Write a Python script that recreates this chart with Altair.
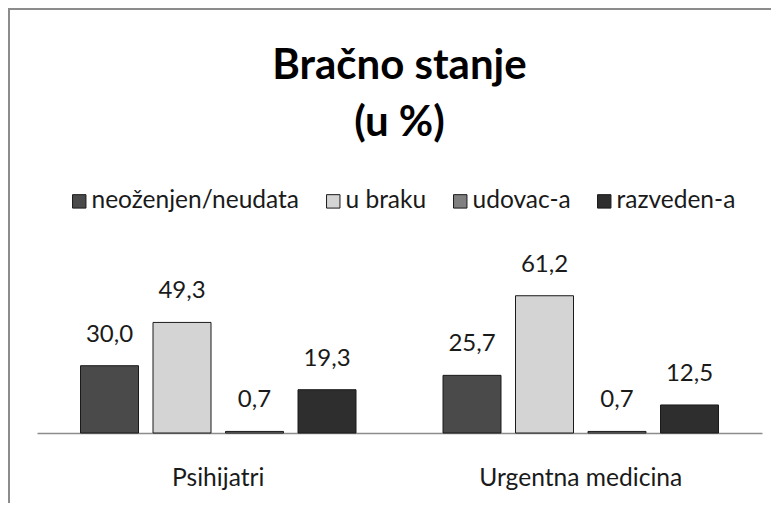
import altair as alt
import pandas as pd

groups = ["Psihijatri", "Urgentna medicina"]
series = ["neoženjen/neudata", "u braku", "udovac-a", "razveden-a"]
psihijatri = [30.0, 49.3, 0.7, 19.3]
urgentna = [25.7, 61.2, 0.7, 12.5]
colors = ["#4a4a4a", "#d4d4d4", "#808080", "#2e2e2e"]

rows = []
for g, vals in zip(groups, [psihijatri, urgentna]):
    for s, v in zip(series, vals):
        rows.append({"grupa": g, "stanje": s, "vrijednost": v,
                     "oznaka": f"{v:.1f}".replace(".", ",")})
df = pd.DataFrame(rows)

FONT = "Lato"

x = alt.X("grupa:N", sort=groups,
          scale=alt.Scale(paddingInner=0, paddingOuter=0),
          axis=alt.Axis(title=None, labelAngle=0, ticks=False, domainColor="#8c8c8c",
                        domainWidth=1.5, labelFont=FONT, labelFontSize=24.6,
                        labelColor="#1a1a1a", labelPadding=33, labelLimit=0))
xo = alt.XOffset("stanje:N", sort=series,
                 scale=alt.Scale(paddingInner=0.2, paddingOuter=0.6))
y = alt.Y("vrijednost:Q", scale=alt.Scale(domain=[0, 70]), axis=None)

color = alt.Color("stanje:N", sort=series,
                  scale=alt.Scale(domain=series, range=colors),
                  legend=alt.Legend(title=None, orient="none", legendX=30, legendY=-87,
                                    direction="horizontal", symbolType="square",
                                    symbolSize=180, symbolStrokeColor="#1a1a1a",
                                    symbolStrokeWidth=1, labelFont=FONT,
                                    labelFontSize=24.5, labelColor="#1a1a1a",
                                    columnPadding=21, labelOffset=0, labelLimit=0))

base = alt.Chart(df)
bars = base.mark_bar(stroke="#1a1a1a", strokeWidth=1).encode(x=x, xOffset=xo, y=y, color=color)
labels = base.mark_text(dy=-19, baseline="bottom", font=FONT, fontSize=24,
                        color="#1a1a1a").encode(x=x, xOffset=xo, y=y, text="oznaka:N")

border = alt.Chart(alt.Data(values=[{}])).mark_rect(
    fill=None, stroke="#8c8c8c", strokeWidth=2
).encode(x=alt.value(-28), x2=alt.value(760), y=alt.value(-267), y2=alt.value(260))

chart = alt.layer(border, bars, labels).properties(
    width=725, height=157,
    autosize=alt.AutoSizeParams(type="none"),
    padding={"left": 29, "top": 268, "right": 9, "bottom": 70},
    title=alt.Title(["Bračno stanje", "(u %)"], font=FONT, fontSize=42,
                    fontWeight="bold", color="#000000", anchor="middle",
                    lineHeight=57, offset=-137),
).configure(background="white", view=alt.ViewConfig(stroke=None))

chart.save("out.html", embed_options={"renderer": "svg", "actions": False})
